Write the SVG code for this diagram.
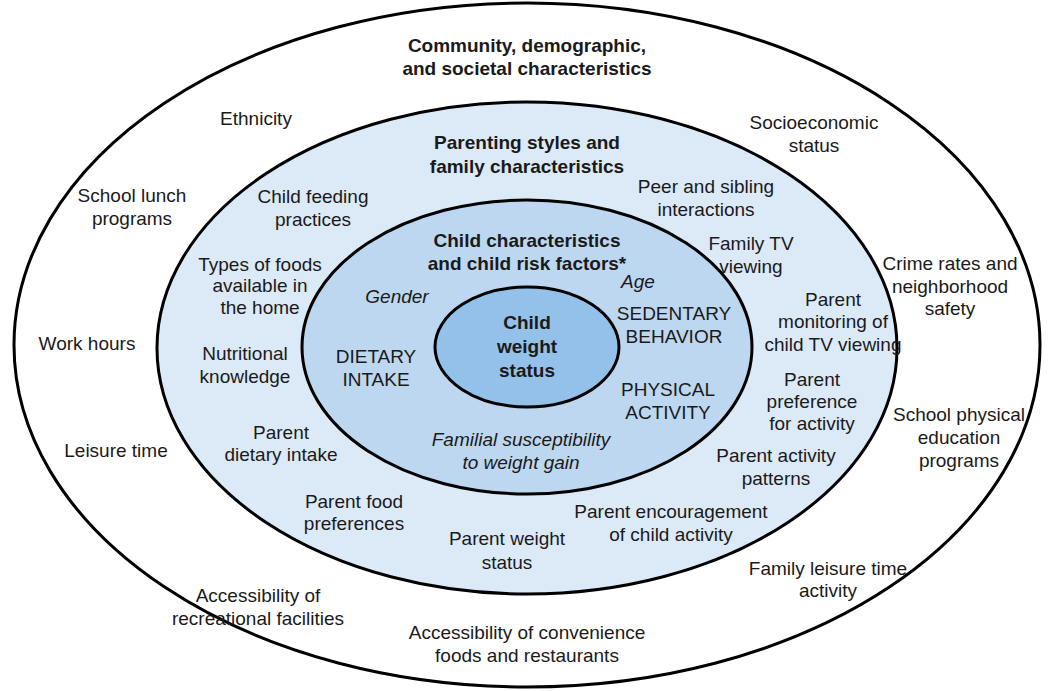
<svg xmlns="http://www.w3.org/2000/svg" width="1053" height="691" viewBox="0 0 1053 691">
<style>
text{font-family:"Liberation Sans",Arial,sans-serif;font-size:19px;fill:#1a1a1a;text-anchor:middle}
.b{font-weight:bold}
.i{font-style:italic}
.ring{stroke:#000;stroke-width:3}
</style>
<rect width="1053" height="691" fill="#fff"/>
<g id="outer"><ellipse class="ring" cx="527" cy="345" rx="513" ry="342" fill="#fff"/></g>
<g id="middle"><ellipse class="ring" cx="527" cy="348" rx="370" ry="246" fill="#dce9f7"/></g>
<g id="inner"><ellipse class="ring" cx="527" cy="347" rx="225" ry="147" fill="#bdd7f0"/></g>
<g id="center"><ellipse class="ring" cx="527" cy="347" rx="92" ry="60" fill="#93c1e9"/></g>
<g id="connectors"></g>
<g id="labels-outer">
<text class="b" x="527" y="52">Community, demographic,</text>
<text class="b" x="527" y="75">and societal characteristics</text>
<text x="256" y="125">Ethnicity</text>
<text x="814" y="129">Socioeconomic</text>
<text x="814" y="152">status</text>
<text x="132" y="202">School lunch</text>
<text x="132" y="225">programs</text>
<text x="950" y="270">Crime rates and</text>
<text x="950" y="293">neighborhood</text>
<text x="950" y="315">safety</text>
<text x="87" y="350">Work hours</text>
<text x="959" y="421">School physical</text>
<text x="959" y="444">education</text>
<text x="959" y="467">programs</text>
<text x="116" y="457">Leisure time</text>
<text x="258" y="602">Accessibility of</text>
<text x="258" y="625">recreational facilities</text>
<text x="828" y="575">Family leisure time</text>
<text x="828" y="597">activity</text>
<text x="527" y="639">Accessibility of convenience</text>
<text x="527" y="662">foods and restaurants</text>
</g>
<g id="labels-middle">
<text class="b" x="527" y="149">Parenting styles and</text>
<text class="b" x="527" y="173">family characteristics</text>
<text x="706" y="193">Peer and sibling</text>
<text x="706" y="216">interactions</text>
<text x="313" y="203">Child feeding</text>
<text x="313" y="226">practices</text>
<text x="751" y="250">Family TV</text>
<text x="751" y="273">viewing</text>
<text x="260" y="271">Types of foods</text>
<text x="260" y="292">available in</text>
<text x="260" y="314">the home</text>
<text x="833" y="306">Parent</text>
<text x="833" y="328">monitoring of</text>
<text x="833" y="351">child TV viewing</text>
<text x="245" y="360">Nutritional</text>
<text x="245" y="383">knowledge</text>
<text x="812" y="386">Parent</text>
<text x="812" y="408">preference</text>
<text x="812" y="430">for activity</text>
<text x="281" y="439">Parent</text>
<text x="281" y="461">dietary intake</text>
<text x="776" y="462">Parent activity</text>
<text x="776" y="485">patterns</text>
<text x="354" y="508">Parent food</text>
<text x="354" y="530">preferences</text>
<text x="671" y="518">Parent encouragement</text>
<text x="671" y="541">of child activity</text>
<text x="507" y="545">Parent weight</text>
<text x="507" y="569">status</text>
</g>
<g id="labels-inner">
<text class="b" x="527" y="247">Child characteristics</text>
<text class="b" x="527" y="270">and child risk factors*</text>
<text class="i" x="638" y="288">Age</text>
<text class="i" x="397" y="303">Gender</text>
<text x="674" y="320">SEDENTARY</text>
<text x="674" y="343">BEHAVIOR</text>
<text x="376" y="363">DIETARY</text>
<text x="376" y="386">INTAKE</text>
<text x="668" y="396">PHYSICAL</text>
<text x="668" y="419">ACTIVITY</text>
<text class="i" x="521" y="446">Familial susceptibility</text>
<text class="i" x="521" y="469">to weight gain</text>
</g>
<g id="labels-center">
<text class="b" x="527" y="329">Child</text>
<text class="b" x="527" y="353">weight</text>
<text class="b" x="527" y="377">status</text>
</g>
</svg>
